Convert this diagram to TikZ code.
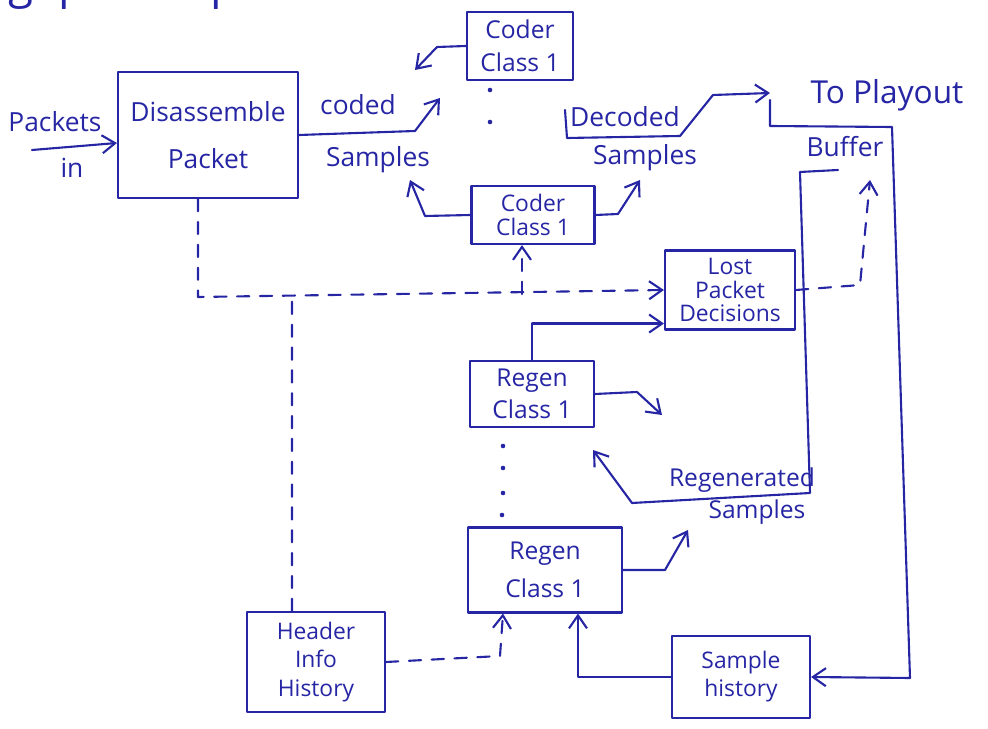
\documentclass[tikz,border=0pt]{standalone}
\usepackage{fontspec}
\setmainfont{Open Sans}
\usetikzlibrary{arrows.meta}
\definecolor{ink}{RGB}{38,38,165}
\begin{document}
\begin{tikzpicture}[x=0.02cm,y=-0.02cm,
  inkline/.style={draw=ink, line width=1.2pt, line join=round, line cap=round},
  flow/.style={inkline, -{Straight Barb[length=2.6mm,width=3.6mm]}},
  dashflow/.style={flow, dash pattern=on 7pt off 6pt},
  dashline/.style={inkline, dash pattern=on 7pt off 6pt},
  block/.style={inkline, rectangle, align=center, text=ink, inner sep=0pt},
  lbl/.style={text=ink, inner sep=0pt, font=\fontsize{15}{18}\selectfont},
]
\useasboundingbox (0,0) rectangle (988,729);

% heading line running off the top edge: only its descenders show
\begin{scope}
  \clip (0,0) rectangle (988,729);
  \node[lbl, anchor=base west, font=\fontsize{26}{26}\selectfont] (heading) at (8,-1) {g\hspace{5mm}packet p};
\end{scope}

% processing blocks
\node[block, minimum width=36mm, minimum height=25.2mm, font=\fontsize{15}{18}\selectfont]
  (dis) at (208,135) {Disassemble\\[3.2mm]Packet};
\node[block, minimum width=21.2mm, minimum height=13.6mm, font=\fontsize{14}{19}\selectfont]
  (coderA) at (520,46) {Coder\\Class 1};
\node[block, minimum width=24.6mm, minimum height=11.6mm, font=\fontsize{13}{14}\selectfont]
  (coderB) at (533,215) {Coder\\Class 1};
\node[block, minimum width=26mm, minimum height=15.8mm, font=\fontsize{13}{13.6}\selectfont]
  (lost) at (730,290) {Lost\\Packet\\Decisions};
\node[block, minimum width=24.8mm, minimum height=13.2mm, font=\fontsize{14}{18}\selectfont]
  (regenA) at (532,394) {Regen\\Class 1};
\node[block, minimum width=30.8mm, minimum height=17mm, font=\fontsize{14}{21.5}\selectfont]
  (regenB) at (545,570) {Regen\\Class 1};
\node[block, minimum width=27.6mm, minimum height=20mm, font=\fontsize{13}{16.4}\selectfont]
  (header) at (316,662) {Header\\Info\\History};
\node[block, minimum width=27.6mm, minimum height=16.4mm, font=\fontsize{13}{16}\selectfont]
  (sample) at (741,677) {Sample\\history};

% free-standing labels
\node[lbl] (pk)   at (55,122)  {Packets};
\node[lbl] (pkin) at (72,168)  {in};
\node[lbl] (cd1)  at (358,105) {coded};
\node[lbl] (cd2)  at (378,160) {Samples};
\node[lbl] (dc1)  at (625,117) {Decoded};
\node[lbl] (dc2)  at (645,158) {Samples};
\node[lbl, font=\fontsize{18}{20}\selectfont] (play) at (887,95) {To Playout};
\node[lbl] (buf)  at (845,147) {Buffer};
\node[lbl, font=\fontsize{14}{17}\selectfont] (rg1) at (742,480) {Regenerated};
\node[lbl, font=\fontsize{14}{17}\selectfont] (rg2) at (757,512) {Samples};

% free ends and junctions
\coordinate (pkstart) at (32,150);
\coordinate (codedtip) at (440,98);
\coordinate (decstart) at (565,110);
\coordinate (buftop) at (770,100);
\coordinate (bufin) at (838,170);
\coordinate (regtip) at (593,450);
\coordinate (jB) at (522,294);

% solid connectors
\draw[flow] (pkstart) -- ([yshift=-1.6mm]dis.west);
\draw[flow] (dis.east) -- (415,131) -- (codedtip);
\draw[flow] (coderA.west) -- (437,47) -- (415,70);
\draw[flow] (coderB.west) -- (425,216) -- (410,180);
\draw[flow] (coderB.east) -- (618,214) -- (640,180);
\draw[flow] (decstart) -- (567,138) -- (680,136) -- (713,95) -- (770,93);
\draw[flow] (buftop) -- (770,126) -- (892,127) -- (910,678) -- (sample.east);
\draw[flow] (bufin) -- (800,172) -- (810,493) -- (632,503) -- (regtip);
\draw[flow] (regenA.north) |- ([yshift=1.4mm]lost.south west);
\draw[flow] (regenA.east) -- (637,392) -- (662,415);
\draw[flow] (regenB.east) -- (665,570) -- (688,530);
\draw[flow] (sample.west) -| ([xshift=6.6mm]regenB.south);

% dashed connectors
\draw[dashflow] ([xshift=-2mm]dis.south) -- (198,297) -- (lost.west);
\draw[dashflow] (jB) -- (jB |- coderB.south);
\draw[dashline] ([xshift=-4.8mm]header.north) -- (292,296);
\draw[dashflow] (lost.east) -- (860,285) -- (870,180);
\draw[dashflow] (header.east) -- (500,656) -- ([xshift=-8.4mm]regenB.south);

% ellipsis dots between the class blocks
\foreach \p in {(490,90),(490,122),(503,446),(503,468),(503,493),(502,515)}
  \fill[ink] \p circle (1.3pt);
\end{tikzpicture}
\end{document}
